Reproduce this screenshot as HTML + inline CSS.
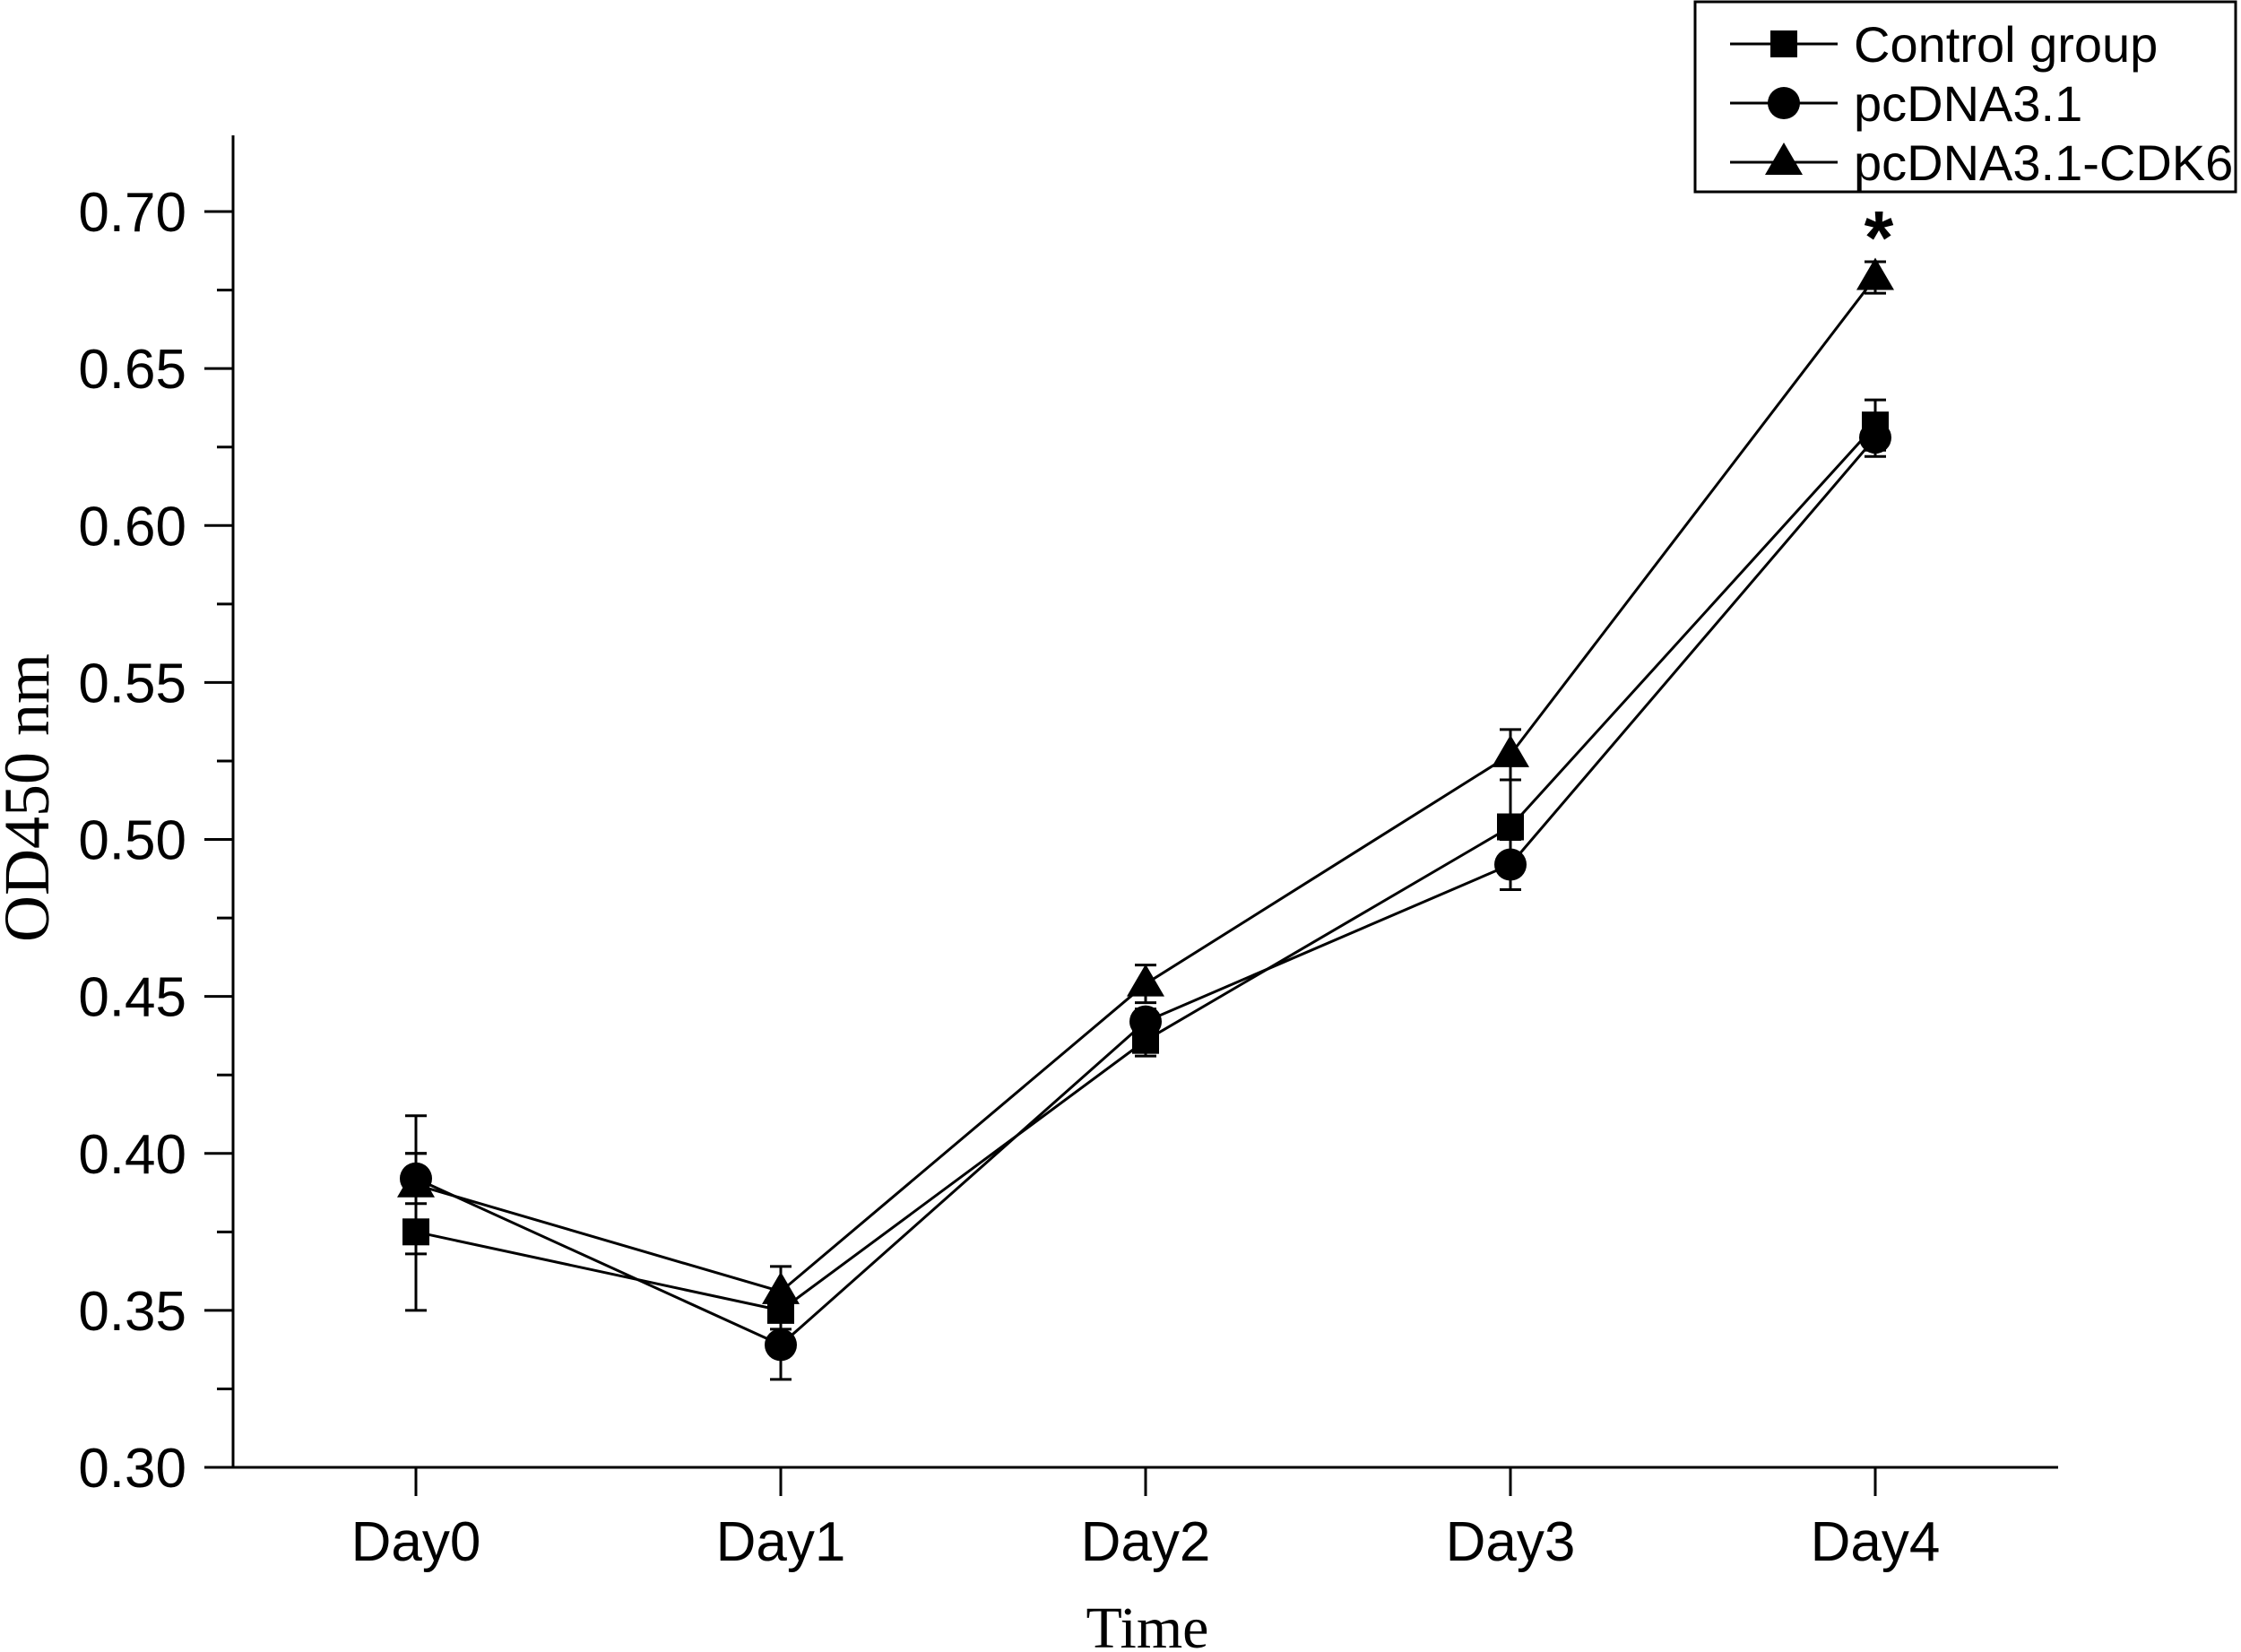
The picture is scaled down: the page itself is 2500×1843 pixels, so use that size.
<!DOCTYPE html>
<html><head><meta charset="utf-8"><style>
body{margin:0;background:#fff}
svg{display:block}
text{font-family:"Liberation Sans",sans-serif;fill:#000}
</style></head><body>
<svg id="chart" width="2500" height="1843" viewBox="0 0 2500 1843" xmlns="http://www.w3.org/2000/svg"></svg>
<script>
const categories = ["Day0","Day1","Day2","Day3","Day4"];
const controlValues = [0.375,0.350,0.436,0.504,0.632];
const controlErrors = [0.025,0.006,0.005,0.015,0.008];
const pcdnaValues = [0.392,0.339,0.442,0.492,0.628];
const pcdnaErrors = [0.008,0.011,0.004,0.008,0.006];
const cdk6Values = [0.390,0.356,0.454,0.527,0.679];
const cdk6Errors = [0.022,0.008,0.006,0.008,0.005];
const yTicks = ["0.30","0.35","0.40","0.45","0.50","0.55","0.60","0.65","0.70"];

const svg = document.getElementById('chart');
const NS = "http://www.w3.org/2000/svg";
function mk(tag, attrs, parent){const e=document.createElementNS(NS,tag);for(const k in attrs)e.setAttribute(k,attrs[k]);(parent||svg).appendChild(e);return e;}
const x0=260, yBase=1637, xRight=2296, yTop=151;
const yScale = v => yBase - (v-0.30)/0.40*(1637-236);
const xScale = i => 464 + i*407;

let ax = mk('line',{x1:x0,y1:yTop,x2:x0,y2:yBase,stroke:'#000','stroke-width':3});


ax = mk('line',{x1:x0,y1:yBase,x2:xRight,y2:yBase,stroke:'#000','stroke-width':3});



yTicks.forEach((t,i)=>{
  const v=parseFloat(t), y=yScale(v);
  mk('line',{x1:x0-32,y1:y,x2:x0,y2:y,stroke:'#000','stroke-width':3});
  if(i<yTicks.length-1){const ym=yScale(v+0.025);mk('line',{x1:x0-18,y1:ym,x2:x0,y2:ym,stroke:'#000','stroke-width':3});}
  const tx = mk('text',{x:x0-52,y:y+22,'text-anchor':'end','font-size':62});
  tx.textContent=t;
  
  
});
categories.forEach((c,i)=>{
  const x=xScale(i);
  mk('line',{x1:x,y1:yBase,x2:x,y2:yBase+32,stroke:'#000','stroke-width':3});
  const tx=mk('text',{x:x,y:yBase+104,'text-anchor':'middle','font-size':62});
  tx.textContent=c;
  
  
});
let t=mk('text',{x:1280,y:1838,'text-anchor':'middle','font-size':66,style:'font-family:"Liberation Serif",serif'});
t.textContent='Time';


t=mk('text',{x:0,y:0,'text-anchor':'middle','font-size':72,transform:'translate(54,890) rotate(-90)',style:'font-family:"Liberation Serif",serif'});
t.textContent='OD450 nm';



function marker(shape,x,y,g){
  if(shape==='square') mk('rect',{x:x-15,y:y-15,width:30,height:30,fill:'#000'},g);
  else if(shape==='circle') mk('circle',{cx:x,cy:y,r:18,fill:'#000'},g);
  else mk('polygon',{points:`${x},${y-22} ${x+21},${y+14} ${x-21},${y+14}`,fill:'#000'},g);
}
function series(name,vals,errs,shape){
  const g=mk('g',{});
  
  
  mk('polyline',{points:vals.map((v,i)=>xScale(i)+','+yScale(v)).join(' '),fill:'none',stroke:'#000','stroke-width':3},g);
  vals.forEach((v,i)=>{
    const x=xScale(i),y1=yScale(v+errs[i]),y2=yScale(v-errs[i]);
    mk('line',{x1:x,y1:y1,x2:x,y2:y2,stroke:'#000','stroke-width':3},g);
    mk('line',{x1:x-12,y1:y1,x2:x+12,y2:y1,stroke:'#000','stroke-width':3},g);
    mk('line',{x1:x-12,y1:y2,x2:x+12,y2:y2,stroke:'#000','stroke-width':3},g);
    marker(shape,x,yScale(v),g);
  });
}
series('control',controlValues,controlErrors,'square');
series('pcdna31',pcdnaValues,pcdnaErrors,'circle');
series('pcdna31-cdk6',cdk6Values,cdk6Errors,'triangle');

t=mk('text',{x:xScale(4)+4,y:yScale(cdk6Values[4]+cdk6Errors[4])+2,'text-anchor':'middle','font-size':84,'font-weight':'bold'});
t.textContent='*';



const lg=mk('g',{});


mk('rect',{x:1891,y:2,width:603,height:212,fill:'#fff',stroke:'#000','stroke-width':3},lg);
[['Control group','square'],['pcDNA3.1','circle'],['pcDNA3.1-CDK6','triangle']].forEach((e,i)=>{
  const y=49+i*66;
  const eg=mk('g',{},lg);
  
  
  mk('line',{x1:1930,y1:y,x2:2050,y2:y,stroke:'#000','stroke-width':3},eg);
  marker(e[1],1990,y,eg);
  const tt=mk('text',{x:2068,y:y+20,'font-size':56},eg);
  tt.textContent=e[0];
});
</script>
</body></html>
